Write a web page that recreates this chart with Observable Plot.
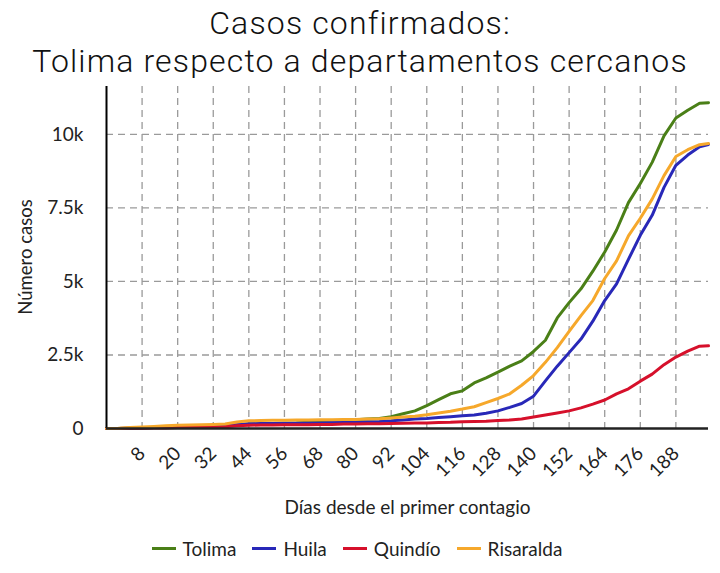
<!DOCTYPE html>
<html>
<head>
<meta charset="utf-8">
<script src="https://cdn.jsdelivr.net/npm/d3@7"></script>
<script src="https://cdn.jsdelivr.net/npm/@observablehq/plot@0.6"></script>
<style>
  html, body { margin: 0; padding: 0; background: #fff; }
  body { width: 720px; font-family: Lato, sans-serif; color: #222; }
  #title { height: 78px; box-sizing: border-box; padding-top: 4px; text-align: center;
           font-family: Roboto, sans-serif; font-size: 32px; line-height: 38px; color: #111; font-weight: 300; letter-spacing: 1.15px; }
  #title div { height: 38px; }
  #wrap { position: relative; width: 720px; }
  #chart svg { display: block; }
  #ytitle { position: absolute; left: 25px; top: 179px; transform: translate(-50%, -50%) rotate(-90deg);
            white-space: nowrap; font-size: 18.5px; color: #222; line-height: 1; }
  #legend { height: 50px; display: flex; justify-content: center; align-items: center; font-size: 19px; color: #222; padding-right: 6px; }
  .item { display: flex; align-items: center; margin: 0 8px; }
  .sw { width: 24px; height: 3px; margin-right: 7px; }
</style>
</head>
<body>
<div id="title"><div>Casos confirmados:</div><div>Tolima respecto a departamentos cercanos</div></div>
<div id="wrap"><div id="chart"></div><div id="ytitle"></div></div>
<div id="legend"></div>
<script>
const days = [-4,0,4,8,12,16,20,24,28,32,36,40,44,48,52,56,60,64,68,72,76,80,84,88,92,96,100,104,108,112,116,120,124,128,132,136,140,144,148,152,156,160,164,168,172,176,180,184,188,192,196,199];
// values in thousands of cases
const tolima = [0,0,0.01,0.02,0.03,0.04,0.05,0.06,0.07,0.08,0.09,0.12,0.15,0.16,0.17,0.18,0.19,0.21,0.24,0.26,0.28,0.30,0.32,0.34,0.40,0.50,0.60,0.78,0.98,1.18,1.28,1.55,1.72,1.92,2.12,2.30,2.62,3.00,3.76,4.28,4.75,5.35,6.00,6.75,7.68,8.33,9.05,9.95,10.56,10.82,11.06,11.08];
const huila = [0,0,0.01,0.02,0.03,0.04,0.05,0.06,0.07,0.08,0.09,0.13,0.16,0.17,0.17,0.18,0.18,0.19,0.19,0.20,0.21,0.22,0.23,0.24,0.26,0.29,0.32,0.34,0.37,0.40,0.43,0.46,0.52,0.60,0.72,0.85,1.10,1.62,2.12,2.58,3.04,3.65,4.35,4.92,5.75,6.57,7.25,8.20,8.95,9.30,9.58,9.66];
const quindio = [0,0,0.01,0.01,0.02,0.02,0.03,0.03,0.04,0.05,0.06,0.09,0.11,0.12,0.12,0.13,0.13,0.13,0.14,0.14,0.15,0.15,0.16,0.16,0.17,0.18,0.19,0.19,0.20,0.21,0.23,0.24,0.25,0.27,0.29,0.32,0.39,0.46,0.53,0.60,0.70,0.83,0.97,1.18,1.35,1.61,1.85,2.17,2.43,2.63,2.80,2.81];
const risaralda = [0,0.01,0.03,0.05,0.07,0.09,0.11,0.12,0.13,0.14,0.15,0.22,0.26,0.27,0.28,0.28,0.29,0.29,0.30,0.30,0.31,0.31,0.32,0.33,0.36,0.39,0.42,0.47,0.53,0.59,0.66,0.74,0.88,1.02,1.18,1.47,1.80,2.25,2.75,3.30,3.84,4.35,5.10,5.70,6.55,7.15,7.80,8.60,9.25,9.48,9.65,9.69];

const seriesNames = ["Tolima", "Huila", "Quindío", "Risaralda"];
const seriesValues = [tolima, huila, quindio, risaralda];
const seriesColors = ["#4a7f17", "#2828b8", "#d6102b", "#f6a82b"];
const xTicks = [8,20,32,44,56,68,80,92,104,116,128,140,152,164,176,188];
const yTicks = [0, 2500, 5000, 7500, 10000];
const yTickLabels = ["0", "2.5k", "5k", "7.5k", "10k"];
const xTitle = "Días desde el primer contagio";
const yTitle = "Número casos";

const rows = [];
seriesNames.forEach((name, i) => {
  days.forEach((d, j) => rows.push({day: d, casos: seriesValues[i][j] * 1000, dep: name}));
});

const gridStyle = {stroke: "#9a9a9a", strokeOpacity: 1, strokeWidth: 1.3, strokeDasharray: "7,5"};

const chart = Plot.plot({
  width: 720,
  height: 445,
  marginTop: 8,
  marginBottom: 95,
  marginLeft: 106,
  marginRight: 12,
  x: {domain: [d3.min(days), d3.max(days)], label: null},
  y: {domain: [0, 11630], label: null},
  color: {domain: seriesNames, range: seriesColors},
  style: {fontFamily: "Lato, sans-serif", fontSize: "19px", color: "#222", background: "#fff", overflow: "visible"},
  marks: [
    Plot.gridX(xTicks, gridStyle),
    Plot.gridY(yTicks.slice(1), gridStyle),
    Plot.lineY(rows, {x: "day", y: "casos", z: "dep", stroke: "dep", strokeWidth: 3, strokeLinejoin: "round"}),
    Plot.ruleX([d3.min(days)], {stroke: "#000", strokeWidth: 2}),
    Plot.ruleY([0], {stroke: "#222", strokeWidth: 2.5}),
    Plot.axisY(yTicks, {tickSize: 0, tickPadding: 23, tickFormat: d => yTickLabels[yTicks.indexOf(d)], fontSize: 19, label: null}),
    Plot.axisX(xTicks, {tickSize: 0, tickPadding: 22, tickRotate: -45, fontSize: 19, label: null}),
    Plot.text([xTitle], {frameAnchor: "bottom", dy: 85, fontSize: 19})
  ]
});
document.getElementById("chart").appendChild(chart);
document.getElementById("ytitle").textContent = yTitle;

const legend = document.getElementById("legend");
seriesNames.forEach((name, i) => {
  const item = document.createElement("div");
  item.className = "item";
  const sw = document.createElement("div");
  sw.className = "sw";
  sw.style.background = seriesColors[i];
  const t = document.createElement("span");
  t.textContent = name;
  item.appendChild(sw);
  item.appendChild(t);
  legend.appendChild(item);
});
</script>
</body>
</html>
